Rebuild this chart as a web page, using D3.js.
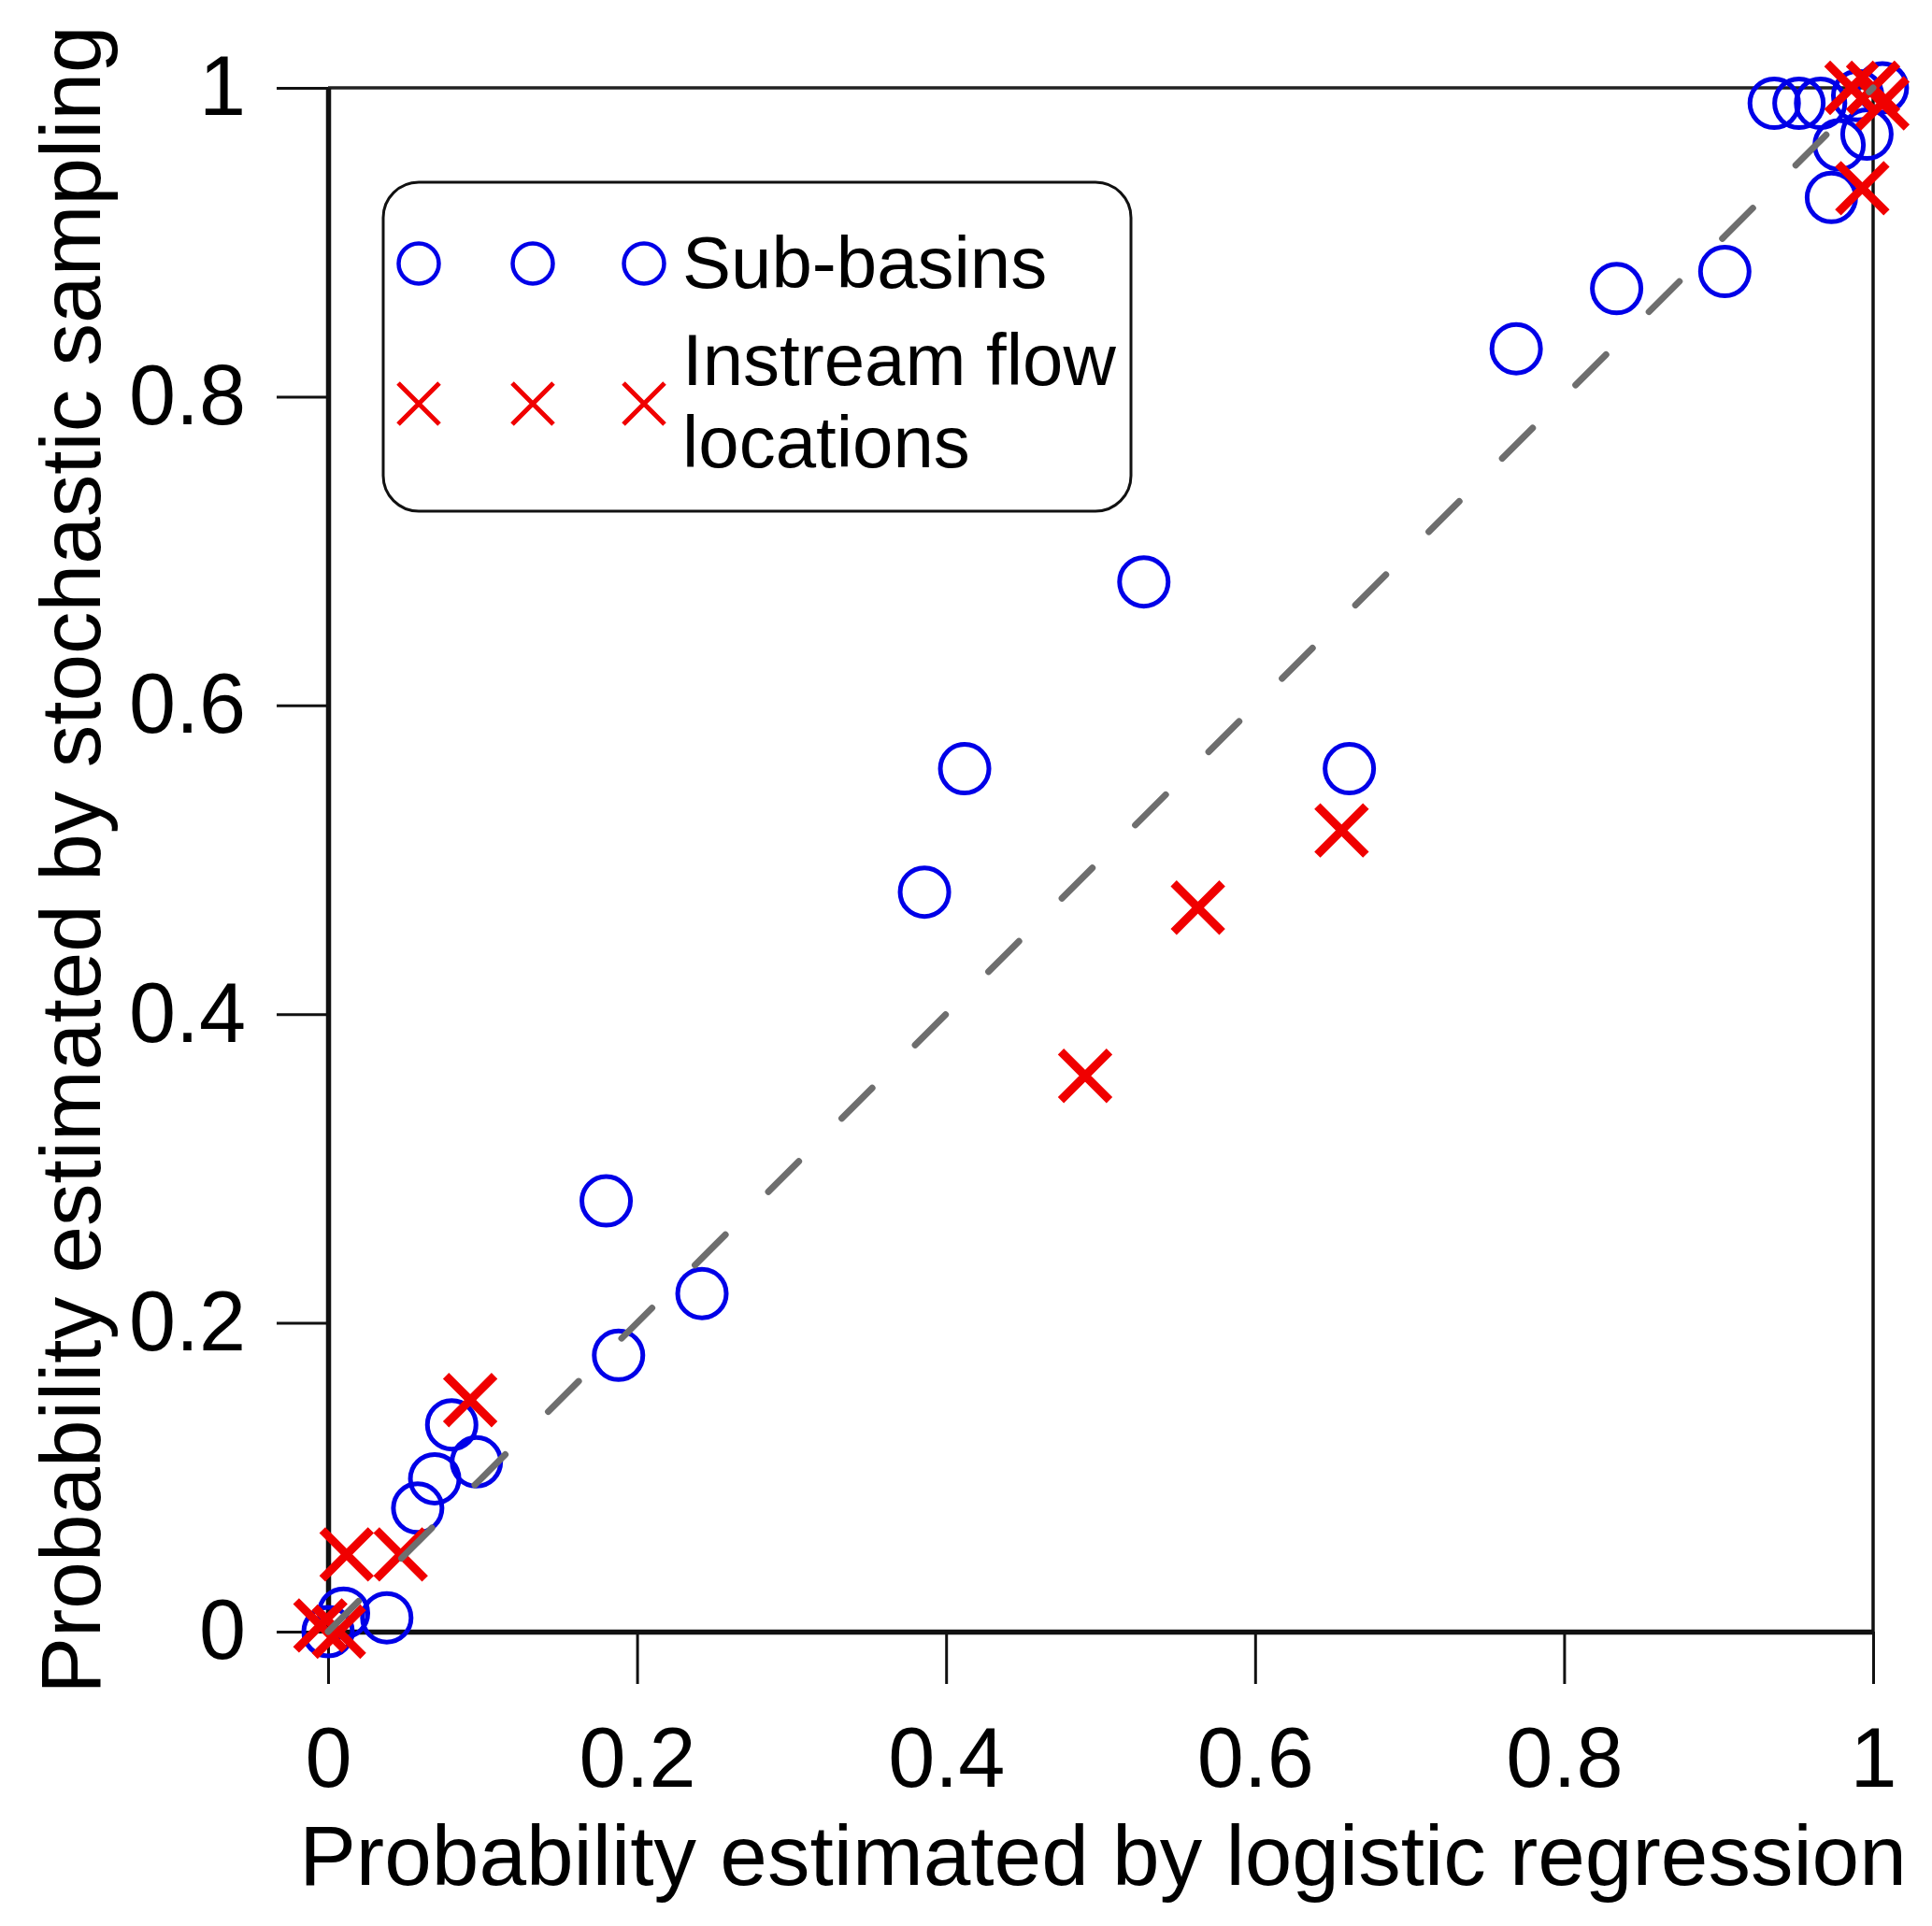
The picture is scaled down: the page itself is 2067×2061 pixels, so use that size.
<!DOCTYPE html>
<html>
<head>
<meta charset="utf-8">
<script src="https://cdn.jsdelivr.net/npm/d3@7"></script>
<style>
  body { margin: 0; background: #fff; }
  svg { display: block; font-family: "Liberation Sans", Arial, sans-serif; }
</style>
</head>
<body>
<svg id="chart" width="2067" height="2061"></svg>
<script>
// values
const subBasinX = [0.000, 0.010, 0.038, 0.058, 0.069, 0.080, 0.096, 0.180, 0.188, 0.242,
                   0.386, 0.412, 0.528, 0.661, 0.769, 0.834, 0.904,
                   0.936, 0.952, 0.966, 0.973, 0.978, 0.996, 0.990, 1.006];
const subBasinY = [0.000, 0.012, 0.009, 0.080, 0.099, 0.134, 0.110, 0.279, 0.179, 0.219,
                   0.479, 0.559, 0.680, 0.559, 0.831, 0.870, 0.881,
                   0.990, 0.990, 0.990, 0.929, 0.963, 0.970, 0.995, 1.000];

const flowX = [-0.005, 0.007, 0.012, 0.047, 0.092, 0.490, 0.563, 0.656, 0.993, 0.986, 1.000, 1.006];
const flowY = [0.004, 0.000, 0.050, 0.050, 0.150, 0.360, 0.469, 0.519, 0.935, 1.000, 1.000, 0.990];

const xTicks = [0, 0.2, 0.4, 0.6, 0.8, 1];
const yTicks = [0, 0.2, 0.4, 0.6, 0.8, 1];
const legendLabels = [["Sub-basins"], ["Instream flow", "locations"]];
const xTitle = "Probability estimated by logistic regression";
const yTitle = "Probability estimated by stochastic sampling";

const svg = d3.select("#chart");
svg.append("rect").attr("width", 2067).attr("height", 2061).attr("fill", "#fff");

const x = d3.scaleLinear().domain([0, 1]).range([351, 2004]);
const y = d3.scaleLinear().domain([0, 1]).range([1746, 94]);
const fmt = d3.format("~g");

// frame (top + right)
svg.append("line").attr("x1", x(0)).attr("x2", x(1)).attr("y1", y(1)).attr("y2", y(1))
    .attr("stroke", "#222").attr("stroke-width", 3.5);
svg.append("line").attr("x1", x(1)).attr("x2", x(1)).attr("y1", y(1)).attr("y2", y(0))
    .attr("stroke", "#111").attr("stroke-width", 3.5);

const xAxis = svg.append("g").attr("transform", `translate(0,${y(0)})`)
    .call(d3.axisBottom(x).tickValues(xTicks).tickFormat(fmt).tickSize(56).tickSizeOuter(0).tickPadding(46));
const yAxis = svg.append("g").attr("transform", `translate(${x(0)},0)`)
    .call(d3.axisLeft(y).tickValues(yTicks).tickFormat(fmt).tickSize(55).tickSizeOuter(0).tickPadding(33));

[xAxis, yAxis].forEach(g => {
    g.select(".domain").attr("stroke", "#111").attr("stroke-width", 5.5);
    g.selectAll(".tick line").attr("stroke", "#111").attr("stroke-width", 3);
    g.selectAll(".tick text").attr("fill", "#000").attr("font-size", 90)
        .attr("font-family", "Liberation Sans, Arial, sans-serif");
});

// data: circles, then crosses, then the 1:1 dashed line on top
const subBasins = subBasinX.map((v, i) => ({ x: v, y: subBasinY[i] }));
const flows = flowX.map((v, i) => ({ x: v, y: flowY[i] }));

svg.append("g").selectAll("circle").data(subBasins).enter().append("circle")
    .attr("cx", d => x(d.x)).attr("cy", d => y(d.y)).attr("r", 26)
    .attr("fill", "none").attr("stroke", "#0000e8").attr("stroke-width", 5);

const cross = s => `M${-s},${-s}L${s},${s}M${-s},${s}L${s},${-s}`;
svg.append("g").selectAll("path").data(flows).enter().append("path")
    .attr("transform", d => `translate(${x(d.x)},${y(d.y)})`)
    .attr("d", cross(26)).attr("fill", "none").attr("stroke", "#f00000").attr("stroke-width", 9);

svg.append("line").attr("x1", x(0)).attr("y1", y(0)).attr("x2", x(1)).attr("y2", y(1))
    .attr("stroke", "#6e6e6e").attr("stroke-width", 7).attr("stroke-linecap", "round")
    .attr("stroke-dasharray", "46 65");

// legend
const legend = svg.append("g");
legend.append("rect").attr("x", 410).attr("y", 195).attr("width", 800).attr("height", 352)
    .attr("rx", 38).attr("fill", "#fff").attr("stroke", "#111").attr("stroke-width", 3);
const markerX = [448, 570, 689];
markerX.forEach(mx => {
    legend.append("circle").attr("cx", mx).attr("cy", 282).attr("r", 21.5)
        .attr("fill", "none").attr("stroke", "#0000e8").attr("stroke-width", 4.5);
    legend.append("path").attr("transform", `translate(${mx},432)`).attr("d", cross(22))
        .attr("fill", "none").attr("stroke", "#f00000").attr("stroke-width", 5);
});
legend.append("text").attr("x", 730).attr("y", 308).attr("font-size", 78).text(legendLabels[0][0]);
legend.append("text").attr("x", 730).attr("y", 412).attr("font-size", 78).text(legendLabels[1][0]);
legend.append("text").attr("x", 730).attr("y", 500).attr("font-size", 78).text(legendLabels[1][1]);

// axis titles
svg.append("text").attr("x", 1180).attr("y", 2017).attr("text-anchor", "middle")
    .attr("font-size", 91).text(xTitle);
svg.append("text").attr("transform", "translate(107,920) rotate(-90)").attr("text-anchor", "middle")
    .attr("font-size", 91).text(yTitle);
</script>
</body>
</html>
